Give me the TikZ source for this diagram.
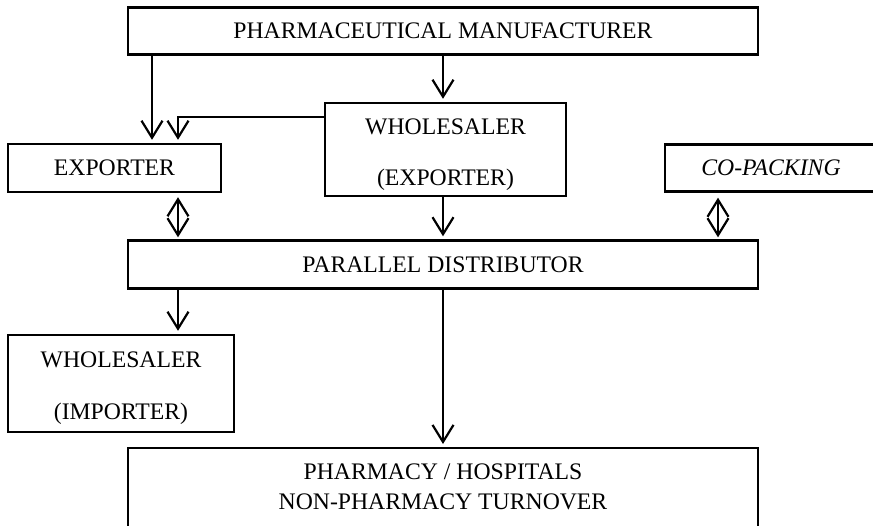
\documentclass[tikz,border=0pt]{standalone}
\usepackage{fontspec}
\setmainfont{Liberation Serif}
\usetikzlibrary{arrows.meta,calc}
\begin{document}
\begin{tikzpicture}[x=1bp,y=-1bp,
  >={Straight Barb[length=17bp,width=21bp,line width=2.2bp]},
  box/.style={draw,line width=2.4bp,rectangle,inner sep=0pt,align=center,
    font=\fontsize{23.8}{28}\selectfont},
  lbl/.style={inner sep=0pt,align=center,font=\fontsize{23.8}{28}\selectfont},
  arr/.style={line width=2.2bp,->,shorten >=3bp},
  darr/.style={line width=2.2bp,<->}]
\useasboundingbox (0,0) rectangle (873,526);
\clip (0,0) rectangle (873,526);
\node[box,minimum width=630bp,minimum height=47bp] (top) at (443,31) {PHARMACEUTICAL MANUFACTURER};
\node[box,minimum width=213bp,minimum height=48bp] (exp) at (114.5,168) {EXPORTER};
\node[box,minimum width=241bp,minimum height=93bp] (whe) at (445.5,149.5) {};
\node[lbl,font=\fontsize{23.8}{51}\selectfont] (whet) at (445.5,155) {WHOLESALER\\(EXPORTER)};
\node[box,minimum width=212bp,minimum height=47bp,font=\fontsize{23.8}{28}\itshape] (cop) at (771,168) {CO-PACKING};
\node[box,minimum width=630bp,minimum height=48bp] (pd) at (443,264.5) {PARALLEL DISTRIBUTOR};
\node[box,minimum width=226bp,minimum height=97bp] (whi) at (121,383.5) {};
\node[lbl,font=\fontsize{23.8}{52}\selectfont] (whit) at (121,388) {WHOLESALER\\(IMPORTER)};
\node[box,minimum width=630bp,minimum height=93bp,anchor=north] (ph) at (443,447) {};
\node[lbl,font=\fontsize{23.8}{30}\selectfont] (phtext) at (443,487) {PHARMACY / HOSPITALS\\NON-PHARMACY TURNOVER};
\coordinate (a1) at (152,0);
\coordinate (a2) at (178,0);
\coordinate (a3) at (718,0);
\coordinate (c1) at (443,0);
\draw[arr] (top.south -| a1) -- (exp.north -| a1);
\draw[arr] (whe.west |- 0,117) -| (exp.north -| a2);
\draw[arr] (top.south -| c1) -- (whe.north -| c1);
\draw[arr] (whe.south -| c1) -- (pd.north -| c1);
\draw[darr,shorten <=4bp,shorten >=2bp] (exp.south -| a2) -- (pd.north -| a2);
\draw[darr,shorten <=5bp,shorten >=2bp] (cop.south -| a3) -- (pd.north -| a3);
\draw[arr] (pd.south -| a2) -- (whi.north -| a2);
\draw[arr] (pd.south -| c1) -- (ph.north -| c1);
\end{tikzpicture}
\end{document}
